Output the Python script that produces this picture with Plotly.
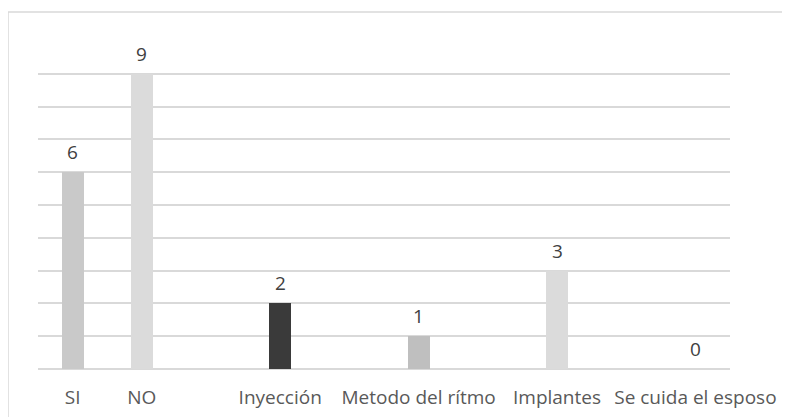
import plotly.graph_objects as go

categories = ["SI", "NO", "", "Inyección", "", "Metodo del rítmo", "", "Implantes", "", "Se cuida el esposo"]
values = [6, 9, None, 2, None, 1, None, 3, None, 0]
colors = ["#c9c9c9", "#dbdbdb", "#ffffff", "#3a3a3a", "#ffffff", "#bfbfbf", "#ffffff", "#dbdbdb", "#ffffff", "#dbdbdb"]

positions = list(range(len(categories)))
bx = [p for p, v in zip(positions, values) if v is not None]
by = [v for v in values if v is not None]
bc = [c for c, v in zip(colors, values) if v is not None]

fig = go.Figure()
fig.add_trace(go.Bar(x=bx, y=by, marker=dict(color=bc, line=dict(width=0)), width=0.32,
                     hoverinfo="skip"))

for x, y in zip(bx, by):
    fig.add_annotation(x=x, y=y, text=str(y), showarrow=False, yanchor="bottom", yshift=5,
                       font=dict(family="Open Sans", size=19, color="#404040"))

fig.add_shape(type="rect", xref="paper", yref="paper", x0=-30/692, x1=1.2, y0=-1, y1=1 + 29/328,
              line=dict(color="#d9d9d9", width=1.5), fillcolor="rgba(0,0,0,0)", layer="below")

fig.update_layout(
    width=790, height=417,
    margin=dict(l=30, r=68, t=33, b=56),
    paper_bgcolor="white", plot_bgcolor="white",
    showlegend=False,
    font=dict(family="Open Sans", size=19, color="#595959"),
    xaxis=dict(range=[-0.5, 9.5], tickvals=positions, ticktext=categories, showgrid=False,
               zeroline=False, showline=False, ticks="outside", ticklen=11, tickcolor="rgba(0,0,0,0)"),
    yaxis=dict(range=[0, 10], dtick=1, showticklabels=False, showgrid=True, gridcolor="#d9d9d9",
               gridwidth=1.5, zeroline=True, zerolinecolor="#d9d9d9", zerolinewidth=1.5, fixedrange=True),
    bargap=0,
)

fig.write_html("out.html")
